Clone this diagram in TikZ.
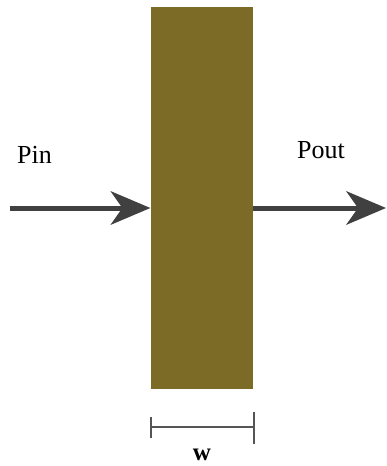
\documentclass[tikz,border=0pt]{standalone}
\usepackage{fontspec}
\setmainfont{Liberation Serif}
\usetikzlibrary{arrows.meta}
\definecolor{slabcolor}{RGB}{123,107,38}
\definecolor{flowgray}{RGB}{64,64,64}
\definecolor{dimgray}{RGB}{85,85,85}
\tikzset{
  slab/.style={rectangle, fill=slabcolor, draw=none, inner sep=0pt,
    minimum width=102.5pt, minimum height=381.5pt},
  flow/.style={draw=flowgray, line width=5pt,
    -{Stealth[length=40pt,width=34pt,inset=12pt,line width=0pt]}},
  dimline/.style={draw=dimgray, line width=2pt},
  label/.style={font=\fontsize{26}{28}\selectfont, inner sep=0pt, text=black}
}
\begin{document}
\begin{tikzpicture}[x=1pt,y=-1pt]
  \useasboundingbox (0,0) rectangle (386,466);
  % absorbing slab
  \node[slab] (slab) at (201.8,198.2) {};
  % incoming and outgoing power
  \coordinate (inStart) at (10,208);
  \coordinate (inEnd) at (slab.west |- inStart);
  \coordinate (outStart) at (slab.east |- inStart);
  \coordinate (outEnd) at (386,208);
  \draw[flow] (inStart) -- (inEnd);
  \draw[flow] (outStart) -- (outEnd);
  \node[label, anchor=base west] (pin) at (17,163) {Pin};
  \node[label, anchor=base west] (pout) at (297,158) {Pout};
  % thickness dimension
  \coordinate (dimL) at (150.5,427);
  \coordinate (dimR) at (254,427);
  \draw[dimline] (dimL) -- (dimR);
  \draw[dimline] ([yshift=-11pt]dimL) -- ([yshift=10pt]dimL);
  \draw[dimline] ([yshift=-17pt]dimR) -- ([yshift=15pt]dimR);
  \node[label, font=\fontsize{25}{27}\selectfont\bfseries, anchor=base] (w) at (202,460) {w};
\end{tikzpicture}
\end{document}
